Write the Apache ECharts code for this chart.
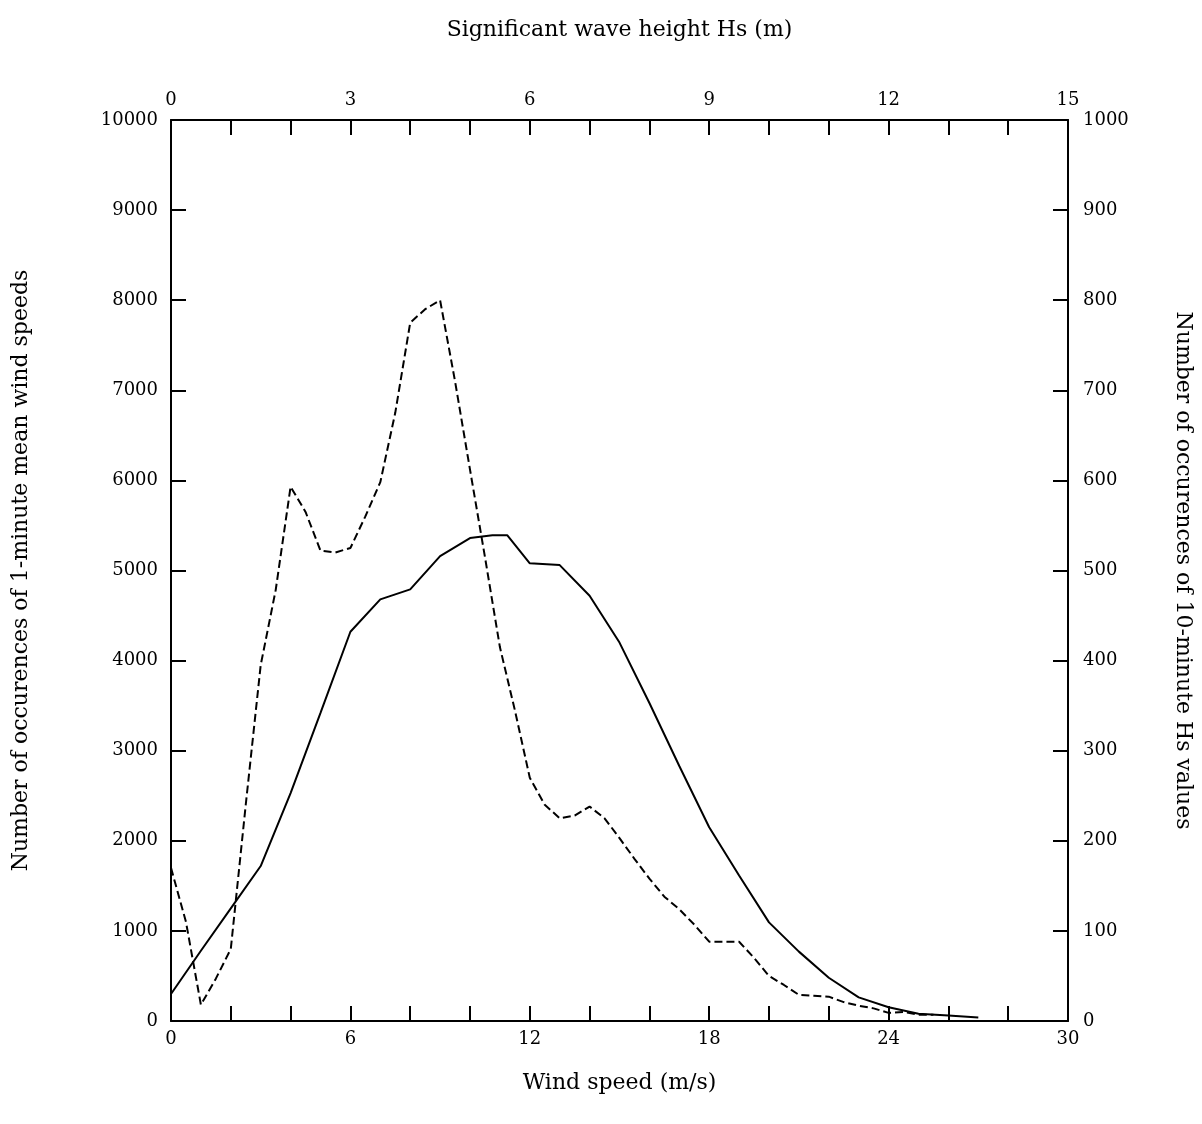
<!DOCTYPE html>
<html>
<head>
<meta charset="utf-8">
<script src="https://cdn.jsdelivr.net/npm/echarts@6/dist/echarts.min.js"></script>
<style>
html,body{margin:0;padding:0;background:#fff;}
#chart{width:1202px;height:1124px;}
</style>
</head>
<body>
<div id="chart"></div>
<script>
// Wind speed (m/s) vs number of occurrences of 1-minute mean wind speeds (solid)
var windSpeed = [0,1,2,3,4,5,6,7,8,9,10,10.75,11.25,12,13,14,15,16,17,18,19,20,21,22,23,24,25,26,27];
var windCount = [300,780,1250,1720,2530,3420,4320,4680,4790,5160,5360,5390,5390,5080,5060,4720,4200,3530,2830,2150,1615,1095,770,480,262,153,80,60,40];

// Significant wave height Hs (m) vs number of occurrences of 10-minute Hs values (dashed)
var hsHeight = [0,0.25,0.5,0.75,1,1.25,1.5,1.75,2,2.25,2.5,2.75,3,3.25,3.5,3.75,4,4.25,4.5,4.75,5,5.25,5.5,5.75,6,6.25,6.5,6.75,7,7.25,7.5,7.75,8,8.25,8.5,8.75,9,9.25,9.5,9.75,10,10.25,10.5,10.75,11,11.25,11.5,11.75,12,12.25,12.5,12.75];
var hsCount = [170,110,18,47,80,240,395,478,593,565,522,520,525,560,598,675,775,790,800,710,612,515,415,345,270,240,225,228,238,225,203,180,158,138,124,107,88,88,88,70,50,40,29,28,27,21,17,14,9,10,7,7];

// Axis tick settings
var windTicks = {min:0, max:30, step:2, labelEvery:6};
var hsTicks = {min:0, max:15, step:1, labelEvery:3};
var windCountTicks = {min:0, max:10000, step:1000};
var hsCountTicks = {min:0, max:1000, step:100};

var font = '"DejaVu Serif", "Liberation Serif", serif';
var chart = echarts.init(document.getElementById('chart'));

function zip(a,b){ return a.map(function(v,i){ return [v,b[i]]; }); }
function plain(v){ return String(v); }

var axisLineStyle = {show:true, onZero:false, lineStyle:{color:'#000', width:2}};
var tickStyle = {show:true, inside:true, length:15, lineStyle:{color:'#000', width:2}};
var labelBase = {color:'#000', fontFamily:font, fontSize:18};
var nameBase = {color:'#000', fontFamily:font, fontSize:22};

chart.setOption({
  backgroundColor:'#fff',
  animation:false,
  grid:{left:171, top:120, right:134, bottom:103, containLabel:false},
  xAxis:[
    {type:'value', position:'bottom', min:windTicks.min, max:windTicks.max, interval:windTicks.step,
     axisLine:axisLineStyle, axisTick:tickStyle, splitLine:{show:false},
     axisLabel:Object.assign({margin:9, formatter:function(v){return v%windTicks.labelEvery===0?String(v):'';}}, labelBase),
     name:'Wind speed (m/s)', nameLocation:'middle', nameGap:51, nameTextStyle:nameBase},
    {type:'value', position:'top', min:hsTicks.min, max:hsTicks.max, interval:hsTicks.step,
     axisLine:axisLineStyle, axisTick:tickStyle, splitLine:{show:false},
     axisLabel:Object.assign({margin:11, formatter:function(v){return v%hsTicks.labelEvery===0?String(v):'';}}, labelBase),
     name:'Significant wave height Hs (m)', nameLocation:'middle', nameGap:79, nameTextStyle:nameBase}
  ],
  yAxis:[
    {type:'value', position:'left', min:windCountTicks.min, max:windCountTicks.max, interval:windCountTicks.step,
     axisLine:axisLineStyle, axisTick:tickStyle, splitLine:{show:false},
     axisLabel:Object.assign({margin:13, formatter:plain}, labelBase),
     name:'Number of occurences of 1-minute mean wind speeds', nameLocation:'middle', nameGap:139, nameRotate:90, nameTextStyle:nameBase},
    {type:'value', position:'right', min:hsCountTicks.min, max:hsCountTicks.max, interval:hsCountTicks.step,
     axisLine:axisLineStyle, axisTick:tickStyle, splitLine:{show:false},
     axisLabel:Object.assign({margin:15, formatter:plain}, labelBase),
     name:'Number of occurences of 10-minute Hs values', nameLocation:'middle', nameGap:104, nameRotate:-90, nameTextStyle:nameBase}
  ],
  series:[
    {type:'line', name:'Wind speed', xAxisIndex:0, yAxisIndex:0, data:zip(windSpeed, windCount),
     showSymbol:false, symbol:'none', lineStyle:{color:'#000', width:2, type:'solid'}},
    {type:'line', name:'Hs', xAxisIndex:1, yAxisIndex:1, data:zip(hsHeight, hsCount),
     showSymbol:false, symbol:'none', lineStyle:{color:'#000', width:2, type:[8,4]}}
  ]
});
</script>
</body>
</html>
